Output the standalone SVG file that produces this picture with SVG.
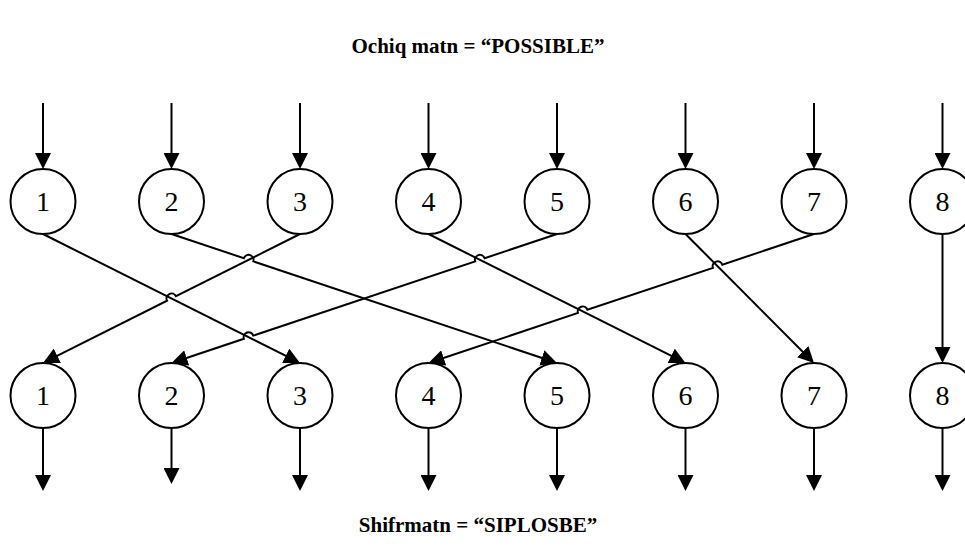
<svg xmlns="http://www.w3.org/2000/svg" width="965" height="552" viewBox="0 0 965 552">
<style>
.nd circle{fill:#fff;stroke:#000;stroke-width:2}
.nd text{font-family:"Liberation Serif","Times New Roman",serif;font-size:28px;text-anchor:middle;fill:#000}
.ln path{fill:none;stroke:#000;stroke-width:2;marker-end:url(#ah)}
.ttl{font-family:"Liberation Serif","Times New Roman",serif;font-size:21px;font-weight:bold;text-anchor:middle;fill:#000}
</style>
<defs>
<marker id="ah" viewBox="0 0 16 16" refX="12" refY="8" markerWidth="16" markerHeight="16" markerUnits="userSpaceOnUse" orient="auto">
<path d="M0,0 L16,8 L0,16 z" fill="#000"/>
</marker>
</defs>
<rect width="965" height="552" fill="#fff"/>
<text class="ttl" x="478" y="53">Ochiq matn = “POSSIBLE”</text>
<text class="ttl" x="478" y="532">Shifrmatn = “SIPLOSBE”</text>
<g id="connectors" class="ln">
<path d="M43,103 V165"/>
<path d="M171.5,103 V165"/>
<path d="M300,103 V165"/>
<path d="M428.5,103 V165"/>
<path d="M557,103 V165"/>
<path d="M685.5,103 V165"/>
<path d="M814,103 V165"/>
<path d="M942.5,103 V165"/>
<path d="M43,234 L296.43,361.21"/>
<path d="M171.5,234 L243.86,258.21 A5,5 0 0 1 253.34,261.39 L553.21,361.73"/>
<path d="M300,234 L175.97,296.26 A5,5 0 0 0 167.03,300.74 L46.57,361.21"/>
<path d="M428.5,234 L681.93,361.21"/>
<path d="M557,234 L484.64,258.21 A5,5 0 0 0 475.16,261.39 L253.34,335.61 A5,5 0 0 0 243.86,338.79 L175.29,361.73"/>
<path d="M685.5,234 L811.18,360.17"/>
<path d="M814,234 L722.37,264.67 A5,5 0 0 0 712.89,267.85 L587.44,309.81 A5,5 0 0 0 577.96,312.99 L432.29,361.73"/>
<path d="M942.5,234 V359"/>
<path d="M43,428 V487"/>
<path d="M171.5,428 V480"/>
<path d="M300,428 V487"/>
<path d="M428.5,428 V487"/>
<path d="M557,428 V487"/>
<path d="M685.5,428 V487"/>
<path d="M814,428 V487"/>
<path d="M942.5,428 V487"/>
</g>
<g id="t1" class="nd"><circle cx="43" cy="201.5" r="32.5"/><text x="43" y="211">1</text></g>
<g id="t2" class="nd"><circle cx="171.5" cy="201.5" r="32.5"/><text x="171.5" y="211">2</text></g>
<g id="t3" class="nd"><circle cx="300" cy="201.5" r="32.5"/><text x="300" y="211">3</text></g>
<g id="t4" class="nd"><circle cx="428.5" cy="201.5" r="32.5"/><text x="428.5" y="211">4</text></g>
<g id="t5" class="nd"><circle cx="557" cy="201.5" r="32.5"/><text x="557" y="211">5</text></g>
<g id="t6" class="nd"><circle cx="685.5" cy="201.5" r="32.5"/><text x="685.5" y="211">6</text></g>
<g id="t7" class="nd"><circle cx="814" cy="201.5" r="32.5"/><text x="814" y="211">7</text></g>
<g id="t8" class="nd"><circle cx="942.5" cy="201.5" r="32.5"/><text x="942.5" y="211">8</text></g>
<g id="b1" class="nd"><circle cx="43" cy="395.5" r="32.5"/><text x="43" y="405">1</text></g>
<g id="b2" class="nd"><circle cx="171.5" cy="395.5" r="32.5"/><text x="171.5" y="405">2</text></g>
<g id="b3" class="nd"><circle cx="300" cy="395.5" r="32.5"/><text x="300" y="405">3</text></g>
<g id="b4" class="nd"><circle cx="428.5" cy="395.5" r="32.5"/><text x="428.5" y="405">4</text></g>
<g id="b5" class="nd"><circle cx="557" cy="395.5" r="32.5"/><text x="557" y="405">5</text></g>
<g id="b6" class="nd"><circle cx="685.5" cy="395.5" r="32.5"/><text x="685.5" y="405">6</text></g>
<g id="b7" class="nd"><circle cx="814" cy="395.5" r="32.5"/><text x="814" y="405">7</text></g>
<g id="b8" class="nd"><circle cx="942.5" cy="395.5" r="32.5"/><text x="942.5" y="405">8</text></g>
</svg>
